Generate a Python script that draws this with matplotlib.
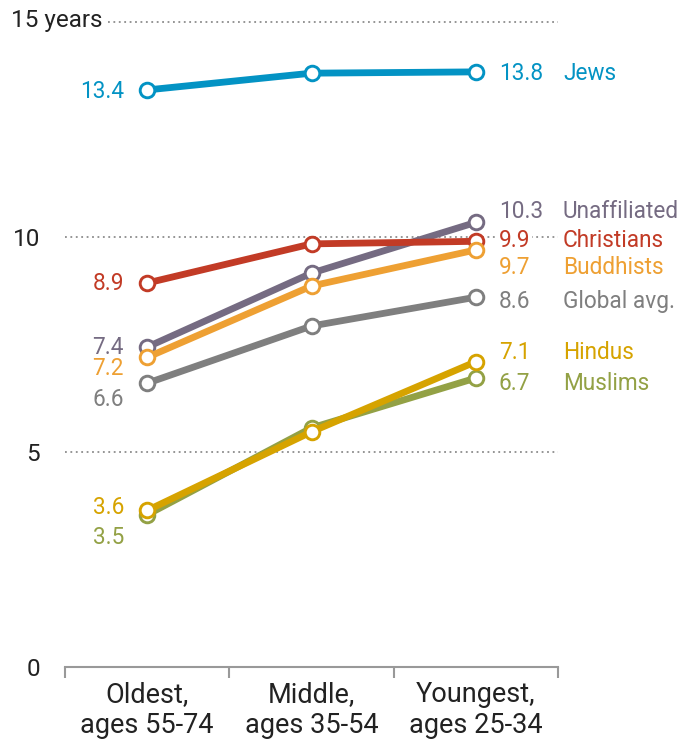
import matplotlib
matplotlib.use("Agg")
import matplotlib.pyplot as plt
from matplotlib import font_manager

# ---------------- DATA ----------------
categories = ["Oldest,\nages 55-74", "Middle,\nages 35-54", "Youngest,\nages 25-34"]

jews = [13.42, 13.81, 13.84]
unaffiliated = [7.44, 9.16, 10.34]
christians = [8.93, 9.84, 9.90]
buddhists = [7.20, 8.86, 9.70]
global_avg = [6.60, 7.93, 8.60]
hindus = [3.64, 5.47, 7.10]
muslims = [3.54, 5.56, 6.72]
series = [jews, unaffiliated, christians, buddhists, global_avg, muslims, hindus]
series_names = ["Jews", "Unaffiliated", "Christians", "Buddhists", "Global avg.", "Muslims", "Hindus"]
# --------------------------------------

colors = {
    "Jews": "#0393c4",
    "Unaffiliated": "#756b82",
    "Christians": "#c23b26",
    "Buddhists": "#eea033",
    "Global avg.": "#7f7f7f",
    "Hindus": "#d6a300",
    "Muslims": "#93a145",
}

# label placement (y in data units), tuned to avoid overlaps
left_label_y = {"Jews": 13.38, "Christians": 8.93, "Unaffiliated": 7.44, "Buddhists": 6.95,
                "Global avg.": 6.21, "Hindus": 3.70, "Muslims": 3.0}
right_label_y = {"Jews": 13.81, "Unaffiliated": 10.60, "Christians": 9.93, "Buddhists": 9.30,
                 "Global avg.": 8.51, "Hindus": 7.325, "Muslims": 6.60}

available = {f.name for f in font_manager.fontManager.ttflist}
fam = [f for f in ["Liberation Sans Narrow", "Roboto", "DejaVu Sans"] if f in available]
plt.rcParams["font.family"] = fam

fig = plt.figure(figsize=(6.85, 7.42), dpi=100)
ax = fig.add_axes([65 / 685, 75 / 742, 493 / 685, 645 / 742])
ax.set_xlim(0, 3)
ax.set_ylim(0, 15)

xs = [0.5, 1.5, 2.5]

for y in [5, 10]:
    ax.axhline(y, color="#8c8c8c", lw=1.3, ls=(0, (1, 2)), zorder=0)
ax.plot([(108 - 65) * 3 / 493, 3], [15, 15], color="#8c8c8c", lw=1.3, ls=(0, (1, 2)),
        zorder=0, clip_on=False)

for name, vals in zip(series_names, series):
    ax.plot(xs, vals, color=colors[name], lw=4.9, marker="o", ms=10.5, mfc="white",
            mec=colors[name], mew=2.1, zorder=3, solid_capstyle="round")

fs = 16.3
lx = (124 - 65) * 3 / 493
rx = (499 - 65) * 3 / 493
nx = (563 - 65) * 3 / 493
for name, vals in zip(series_names, series):
    c = colors[name]
    ax.text(lx, left_label_y[name], f"{vals[0]:.1f}", color=c, fontsize=fs, ha="right",
            va="center", zorder=4)
    ax.text(rx, right_label_y[name], f"{vals[2]:.1f}", color=c, fontsize=fs, ha="left",
            va="center", zorder=4,
            bbox=dict(facecolor="white", edgecolor="none", pad=1))
    ax.text(nx, right_label_y[name], name, color=c, fontsize=fs, ha="left", va="center",
            zorder=4, clip_on=False,
            bbox=dict(facecolor="white", edgecolor="none", pad=1))

ax.set_yticks([0, 5, 10])
ax.set_yticklabels(["0", "5", "10"], fontsize=17.5, color="#222222")
ax.tick_params(axis="y", length=0, pad=18)
ax.text(11 / 685, 1 - 21 / 742, "15 years", transform=fig.transFigure, fontsize=17.5,
        color="#222222", ha="left", va="center")

ax.set_xticks([0, 1, 2, 3])
ax.set_xticklabels([])
ax.tick_params(axis="x", length=8, width=1.5, color="#999999", direction="out")
for i, lab in enumerate(categories):
    ax.text(xs[i], -0.33, lab, ha="center", va="top", fontsize=19.5, color="#222222",
            linespacing=1.18)

for s in ["top", "right", "left"]:
    ax.spines[s].set_visible(False)
ax.spines["bottom"].set_color("#999999")
ax.spines["bottom"].set_linewidth(1.5)

fig.savefig("out.png", dpi=100)
